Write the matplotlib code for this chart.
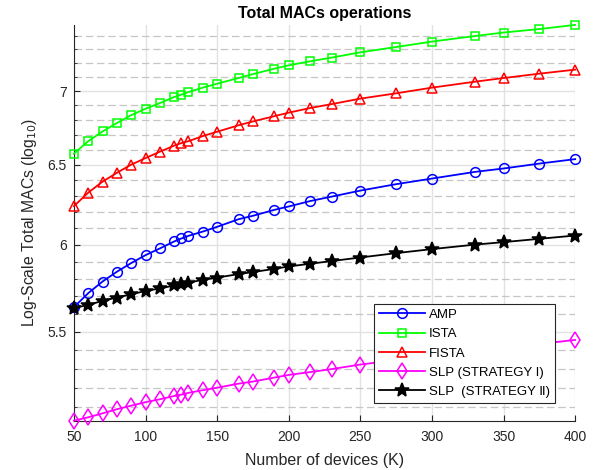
import matplotlib
matplotlib.use('Agg')
import matplotlib.pyplot as plt
from matplotlib.ticker import FixedLocator, FixedFormatter, NullFormatter

plt.rcParams['font.family'] = ['Liberation Sans', 'DejaVu Sans']

# ---- data (log10 of total MACs) ----
K = [50, 60, 70, 80, 90, 100, 110, 120, 125, 130, 140, 150, 165, 175,
     190, 200, 215, 230, 250, 275, 300, 330, 350, 375, 400]

amp = [5.636, 5.716, 5.783, 5.840, 5.891, 5.938, 5.978, 6.020, 6.038, 6.054,
       6.080, 6.109, 6.156, 6.177, 6.214, 6.235, 6.269, 6.297, 6.335, 6.376,
       6.412, 6.455, 6.477, 6.509, 6.538]
ista = [6.574, 6.657, 6.722, 6.779, 6.833, 6.877, 6.916, 6.958, 6.975, 6.993,
        7.024, 7.052, 7.092, 7.120, 7.159, 7.183, 7.212, 7.239, 7.277, 7.316,
        7.356, 7.397, 7.423, 7.449, 7.480]
fista = [6.237, 6.322, 6.392, 6.449, 6.502, 6.545, 6.587, 6.627, 6.644, 6.657,
         6.691, 6.720, 6.764, 6.790, 6.826, 6.850, 6.882, 6.909, 6.947, 6.984,
         7.024, 7.066, 7.092, 7.123, 7.152]
slp1 = [5.030, 5.047, 5.067, 5.088, 5.106, 5.124, 5.139, 5.156, 5.163, 5.172,
        5.186, 5.199, 5.220, 5.231, 5.252, 5.266, 5.281, 5.297, 5.321, 5.345,
        5.368, 5.394, 5.411, 5.432, 5.454]
slp2 = [5.631, 5.649, 5.672, 5.691, 5.710, 5.728, 5.743, 5.760, 5.768, 5.776,
        5.793, 5.806, 5.826, 5.838, 5.857, 5.871, 5.887, 5.903, 5.924, 5.950,
        5.974, 6.001, 6.016, 6.036, 6.056]

x_ticks = [50, 100, 150, 200, 250, 300, 350, 400]
y_major = [5.5, 6, 6.5, 7]
y_major_labels = ['5.5', '6', '6.5', '7']
y_minor = [5.1, 5.2, 5.3, 5.4, 5.6, 5.7, 5.8, 5.9, 6.1, 6.2, 6.3, 6.4,
           6.6, 6.7, 6.8, 6.9, 7.1, 7.2, 7.3, 7.4]

fig = plt.figure(figsize=(5.96, 4.70), dpi=100)
ax = fig.add_axes([0.124, 0.105, 0.841, 0.842])

lw = 1.3
series = [
    (amp, 'AMP', '#0000ff', 'o', 7, 'none'),
    (ista, 'ISTA', '#00ff00', 's', 6, 'none'),
    (fista, 'FISTA', '#ff0000', '^', 7.5, 'none'),
    (slp1, 'SLP (STRATEGY I)', '#ff00ff', 'd', 8.5, 'none'),
    (slp2, 'SLP  (STRATEGY \u2161)', 'black', '*', 10, 'black'),
]
for vals, name, c, m, ms, fc in series:
    ax.plot(K, vals, color=c, marker=m, markersize=ms, markerfacecolor=fc,
            markeredgecolor=c, markeredgewidth=1.1, linewidth=lw, label=name,
            clip_on=False, zorder=3)

ax.set_yscale('log')
ax.set_xlim(50, 400)
ax.set_ylim(5.03, 7.48)
ax.set_xticks(x_ticks)
ax.yaxis.set_major_locator(FixedLocator(y_major))
ax.yaxis.set_major_formatter(FixedFormatter(y_major_labels))
ax.yaxis.set_minor_locator(FixedLocator(y_minor))
ax.yaxis.set_minor_formatter(NullFormatter())

ax.grid(which='major', color='#e2e2e2', linestyle='-', linewidth=1.0, zorder=0)
ax.grid(which='minor', axis='y', color='#c6c6c6', linestyle=(0, (6, 3)),
        linewidth=0.9, zorder=0)
ax.set_axisbelow(True)

ax.spines['top'].set_visible(False)
ax.spines['right'].set_visible(False)
for s in ('left', 'bottom'):
    ax.spines[s].set_color('#262626')
    ax.spines[s].set_linewidth(0.8)
ax.tick_params(which='both', direction='in', colors='#262626', labelsize=10)
ax.tick_params(which='major', length=4)
ax.tick_params(which='minor', length=2)
ax.tick_params(axis='x', pad=7)
ax.tick_params(axis='y', pad=5)

ax.set_title('Total MACs operations', fontsize=11.5, fontweight='bold', pad=5)
ax.set_xlabel('Number of devices (K)', fontsize=11.5, color='#262626', labelpad=6)
ax.set_ylabel('Log-Scale Total MACs (log$_{10}$)', fontsize=11.3,
              color='#262626', labelpad=6)

leg = ax.legend(loc='lower right', bbox_to_anchor=(0.9595, 0.0455), fontsize=9.5,
                handlelength=3.5, fancybox=False, framealpha=1,
                edgecolor='#262626', borderpad=0.35, labelspacing=0.53,
                handletextpad=0.3, borderaxespad=0)
leg.get_frame().set_linewidth(0.8)
leg.set_zorder(5)

fig.savefig('out.png', dpi=100)
